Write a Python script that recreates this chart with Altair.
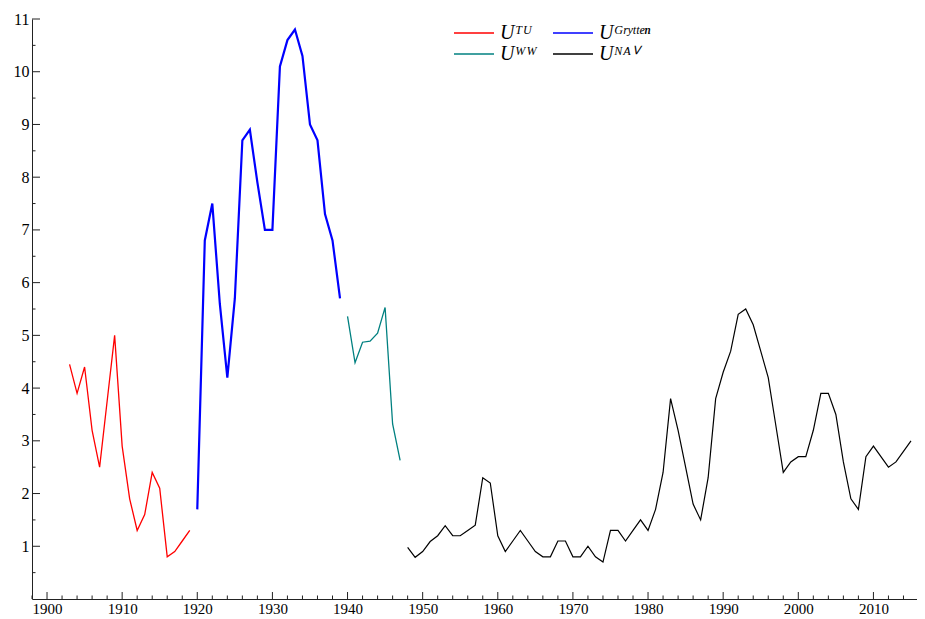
import altair as alt
import pandas as pd

# ---- data ----
tu_years = list(range(1903, 1920))
tu_values = [4.45, 3.9, 4.4, 3.2, 2.5, 3.75, 5.0, 2.9, 1.9, 1.3, 1.6, 2.4, 2.1, 0.8, 0.9, 1.1, 1.3]

gr_years = list(range(1920, 1940))
gr_values = [1.7, 6.8, 7.5, 5.6, 4.2, 5.7, 8.7, 8.9, 7.9, 7.0, 7.0, 10.1, 10.6, 10.8, 10.3, 9.0, 8.7, 7.3, 6.8, 5.7]

ww_years = list(range(1940, 1948))
ww_values = [5.36, 4.48, 4.87, 4.89, 5.04, 5.53, 3.32, 2.63]

nav_years = list(range(1948, 2016))
nav_values = [0.98, 0.79, 0.9, 1.09, 1.2, 1.39, 1.2, 1.2, 1.3, 1.4,
              2.3, 2.2, 1.2, 0.9, 1.1, 1.3, 1.1, 0.9, 0.8, 0.8,
              1.1, 1.1, 0.8, 0.8, 1.0, 0.8, 0.7, 1.3, 1.3, 1.1,
              1.3, 1.5, 1.3, 1.7, 2.4, 3.8, 3.2, 2.5, 1.8, 1.5,
              2.3, 3.8, 4.3, 4.7, 5.4, 5.5, 5.2, 4.7, 4.2, 3.3,
              2.4, 2.6, 2.7, 2.7, 3.2, 3.9, 3.9, 3.5, 2.6, 1.9,
              1.7, 2.7, 2.9, 2.7, 2.5, 2.6, 2.8, 3.0]

TU = "U\u1d40\u1d41"
GR = "U\u1d33\u02b3\u02b8\u1d57\u1d57\u1d49\u207f"
WW = "U\u1d42\u1d42"
NAV = "U\u1d3a\u1d2c\u2c7d"
# legend order (column-major, 2 columns): TU, WW | Grytten, NAV
series_names = [TU, WW, GR, NAV]
series_colors = ["#ff0000", "#008080", "#0000ff", "#000000"]
series_widths = {TU: 1.3, GR: 2.2, WW: 1.3, NAV: 1.2}

x_labels = list(range(1900, 2011, 10))
x_minor = [y for y in range(1898, 2015, 2) if y % 10 != 0]
x_major = list(range(1900, 2011, 10))
y_labels = list(range(1, 12))
y_minor = [i + 0.5 for i in range(0, 11)]
y_major = list(range(1, 12))

# ---- build table ----
rows = []
for name, yrs, vals in [(TU, tu_years, tu_values),
                        (GR, gr_years, gr_values),
                        (WW, ww_years, ww_values),
                        (NAV, nav_years, nav_values)]:
    for yr, v in zip(yrs, vals):
        rows.append({"series": name, "year": yr, "value": v, "w": series_widths[name]})
df = pd.DataFrame(rows)

W, H = 885, 580
FONT = "Liberation Serif"
xscale = alt.Scale(domain=[1898, 2015.8], nice=False, zero=False)
yscale = alt.Scale(domain=[0, 11], nice=False, zero=True)

legend = alt.Legend(
    title=None, orient="none", legendX=432, legendY=4, columns=2,
    symbolType="M-4,0H4", symbolSize=100, symbolStrokeWidth=1.5, gridAlign="each",
    labelFont=FONT, labelFontStyle="italic", labelFontSize=20, labelColor="#000",
    labelOffset=16, columnPadding=12, rowPadding=1, labelLimit=200,
)

lines = alt.Chart(df).mark_line().encode(
    x=alt.X("year:Q", scale=xscale, title=None,
            axis=alt.Axis(values=x_labels, format="d", ticks=False, grid=False,
                          labelFont=FONT, labelFontSize=15, labelColor="#000",
                          labelPadding=2, domainColor="#222", labelFlush=False)),
    y=alt.Y("value:Q", scale=yscale, title=None,
            axis=alt.Axis(values=y_labels, format="d", ticks=False, grid=False,
                          labelFont=FONT, labelFontSize=16, labelColor="#000",
                          labelPadding=3, domainColor="#222", labelFlush=False)),
    color=alt.Color("series:N", scale=alt.Scale(domain=series_names, range=series_colors), legend=legend),
    strokeWidth=alt.StrokeWidth("w:Q", scale=None),
    detail="series:N",
)

tick_color = "#222"
xt_minor = alt.Chart(pd.DataFrame({"tx": x_minor})).mark_rule(color=tick_color, strokeWidth=1).encode(
    x=alt.X("tx:Q", scale=xscale, axis=None), y=alt.value(H), y2=alt.value(H - 3.5))
xt_major = alt.Chart(pd.DataFrame({"tx": x_major})).mark_rule(color=tick_color, strokeWidth=1).encode(
    x=alt.X("tx:Q", scale=xscale, axis=None), y=alt.value(H), y2=alt.value(H - 7))
yt_minor = alt.Chart(pd.DataFrame({"ty": y_minor})).mark_rule(color=tick_color, strokeWidth=1).encode(
    y=alt.Y("ty:Q", scale=yscale, axis=None), x=alt.value(0), x2=alt.value(3.5))
yt_major = alt.Chart(pd.DataFrame({"ty": y_major})).mark_rule(color=tick_color, strokeWidth=1).encode(
    y=alt.Y("ty:Q", scale=yscale, axis=None), x=alt.value(0), x2=alt.value(8))

chart = alt.layer(lines, xt_minor, xt_major, yt_minor, yt_major).resolve_axis(
    x="independent", y="independent"
).properties(
    width=W, height=H,
    autosize=alt.AutoSizeParams(type="none"),
    padding={"left": 24, "top": 11, "right": 0, "bottom": 16},
).configure(background="white", font=FONT).configure_view(stroke=None).configure_axis(
    labelFont=FONT
)

chart.save("out.html", embed_options={"renderer": "svg", "actions": False})
